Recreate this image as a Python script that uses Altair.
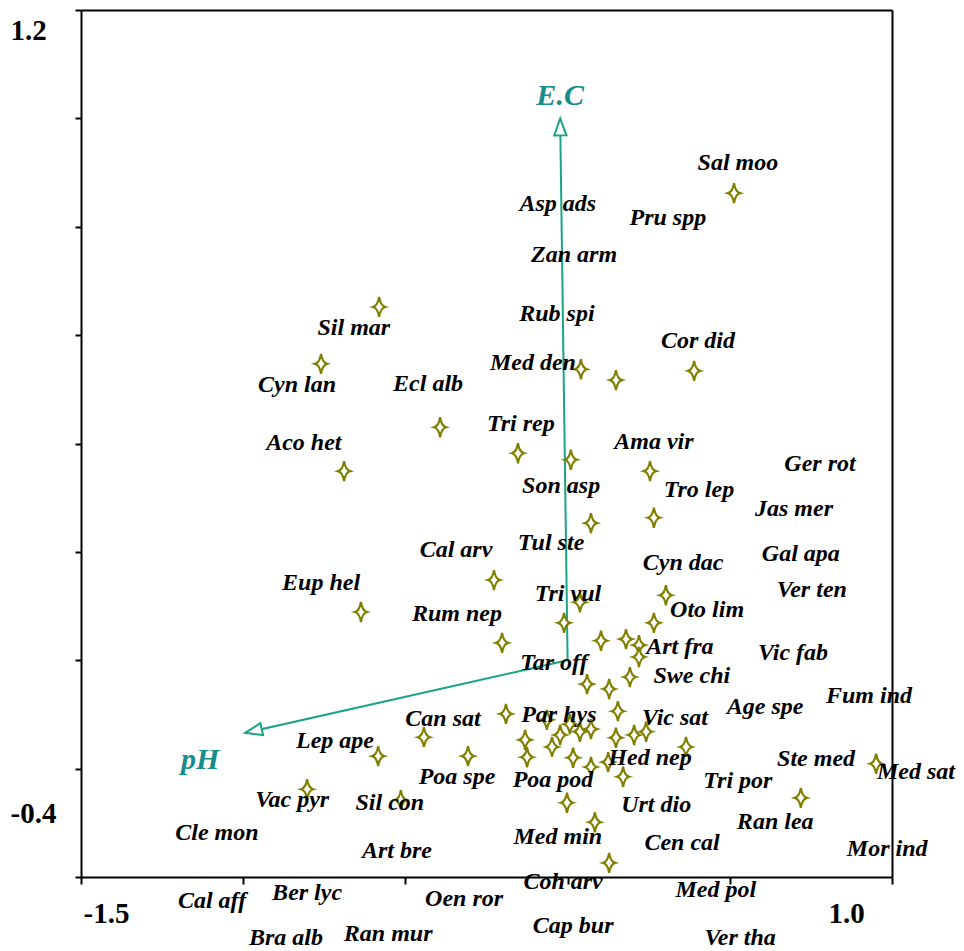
import math
import altair as alt
import pandas as pd

# ---- species points (CCA scores) ----
star_x = [0.513, -0.581, -0.760, 0.041, 0.149, 0.390, -0.393, -0.153, 0.010, 0.254,
          -0.689, 0.266, 0.072, -0.227, -0.637, 0.303, 0.038, 0.266, -0.011, -0.202,
          0.103, 0.180, 0.220, 0.220, 0.060, 0.192, 0.128, 0.155, -0.190, -0.064,
          0.007, 0.038, 0.072, -0.023, -0.048, -0.131, -0.125, 0.149, 0.205, 0.242,
          0.365, 0.017, 0.072, 0.125, 0.171, -0.307, -0.002, 0.084, 0.128, -0.443,
          -0.584, -0.803, -0.514, 0.719, 0.951]
star_y = [0.862, 0.652, 0.547, 0.537, 0.517, 0.534, 0.430, 0.382, 0.370, 0.349,
          0.349, 0.263, 0.253, 0.148, 0.089, 0.120, 0.107, 0.069, 0.069, 0.032,
          0.036, 0.039, 0.028, 0.006, -0.044, -0.031, -0.053, -0.094, -0.099, -0.110,
          -0.118, -0.132, -0.127, -0.138, -0.160, -0.147, -0.179, -0.143, -0.138, -0.132,
          -0.160, -0.180, -0.197, -0.188, -0.215, -0.177, -0.263, -0.299, -0.374, -0.142,
          -0.177, -0.238, -0.258, -0.254, -0.191]

# ---- species labels ----
label_names = ["Sal moo", "Asp ads", "Pru spp", "Zan arm", "Rub spi", "Sil mar", "Cor did",
               "Med den", "Cyn lan", "Ecl alb", "Tri rep", "Aco het", "Ama vir", "Ger rot",
               "Son asp", "Tro lep", "Jas mer", "Tul ste", "Cal arv", "Gal apa", "Cyn dac",
               "Eup hel", "Ver ten", "Tri vul", "Rum nep", "Oto lim", "Art fra", "Vic fab",
               "Tar off", "Swe chi", "Fum ind", "Age spe", "Par hys", "Can sat", "Vic sat",
               "Lep ape", "Hed nep", "Ste med", "Med sat", "Poa spe", "Poa pod", "Tri por",
               "Vac pyr", "Sil con", "Urt dio", "Ran lea", "Cle mon", "Med min", "Cen cal",
               "Art bre", "Mor ind", "Coh arv", "Med pol", "Cal aff", "Ber lyc", "Oen ror",
               "Cap bur", "Ver tha", "Bra alb", "Ran mur"]
label_x = [0.525, -0.030, 0.309, 0.020, -0.033, -0.659, 0.402,
           -0.107, -0.834, -0.430, -0.144, -0.813, 0.266, 0.778,
           -0.020, 0.405, 0.698, -0.051, -0.344, 0.719, 0.356,
           -0.760, 0.753, 0.001, -0.341, 0.430, 0.346, 0.695,
           -0.042, 0.383, 0.929, 0.609, -0.027, -0.384, 0.331,
           -0.717, 0.254, 0.766, 1.074, -0.341, -0.045, 0.525,
           -0.849, -0.548, 0.273, 0.640, -1.081, -0.030, 0.353,
           -0.526, 0.985, -0.014, 0.457, -1.096, -0.803, -0.319,
           0.017, 0.532, -0.868, -0.553]
label_y = [0.918, 0.842, 0.816, 0.748, 0.639, 0.613, 0.589,
           0.549, 0.508, 0.510, 0.436, 0.401, 0.403, 0.362,
           0.322, 0.314, 0.279, 0.216, 0.203, 0.196, 0.179,
           0.143, 0.130, 0.122, 0.085, 0.093, 0.024, 0.013,
           -0.005, -0.029, -0.066, -0.086, -0.101, -0.108, -0.106,
           -0.149, -0.180, -0.182, -0.206, -0.215, -0.221, -0.223,
           -0.258, -0.263, -0.267, -0.299, -0.318, -0.326, -0.337,
           -0.352, -0.348, -0.409, -0.424, -0.444, -0.430, -0.441,
           -0.490, -0.513, -0.513, -0.505]

# ---- environmental arrows ----
env_names = ["E.C", "pH"]
env_x = [-0.023, -0.994]
env_y = [1.000, -0.134]
env_label_x = [-0.023, -1.133]
env_label_y = [1.041, -0.184]

x_ticks = [-1.5, -1.0, -0.5, 0.0, 0.5, 1.0]
y_ticks = [-0.4, -0.2, 0.0, 0.2, 0.4, 0.6, 0.8, 1.0, 1.2]

W, H = 811, 867
sx = W / 2.5
sy = H / 1.6

stars = pd.DataFrame({"x": star_x, "y": star_y})
labels = pd.DataFrame({"name": label_names, "x": label_x, "y": label_y})
env = pd.DataFrame({
    "name": env_names, "x": env_x, "y": env_y,
    "x0": [0.0, 0.0], "y0": [0.0, 0.0],
    "lx": env_label_x, "ly": env_label_y,
})
env["angle"] = [(math.degrees(math.atan2(dx * sx, dy * sy)) + 360) % 360
                for dx, dy in zip(env_x, env_y)]

FONT = "Liberation Serif"
TEAL_LINE = "#1aa386"
TEAL_TEXT = "#178c8c"
OLIVE = "#808000"

xscale = alt.Scale(domain=[-1.5, 1.0], nice=False, zero=False)
yscale = alt.Scale(domain=[-0.4, 1.2], nice=False, zero=False)

MINUS_FIX = "replace(datum.label, '\u2212', '-')"

xaxis = alt.Axis(
    values=x_ticks, format=".1f", grid=False, title=None, orient="bottom",
    labelExpr="(datum.value == -1.5 || datum.value == 1) ? " + MINUS_FIX + " : ''",
    labelOffset={"condition": {"test": "datum.value == -1.5", "value": 25}, "value": -46},
    labelFont=FONT, labelFontSize=29, labelFontWeight="bold", labelColor="black",
    labelBaseline="middle", labelPadding=29, labelFlush=False, labelOverlap=False,
    tickSize=7, tickWidth=2, tickColor="black", domainColor="black", domainWidth=2,
)
yaxis = alt.Axis(
    values=y_ticks, format=".1f", grid=False, title=None, orient="left",
    labelExpr="(datum.value == -0.4 || datum.value == 1.2) ? " + MINUS_FIX + " : ''",
    labelOffset={"condition": {"test": "datum.value == 1.2", "value": 20}, "value": -64},
    labelFont=FONT, labelFontSize=29, labelFontWeight="bold", labelColor="black",
    labelAlign="left", labelBaseline="middle", labelPadding=65, labelFlush=False,
    labelOverlap=False,
    tickSize=6, tickWidth=2, tickColor="black", domainColor="black", domainWidth=2,
)
# frame lines on top and right
top_axis = alt.Axis(orient="top", ticks=False, labels=False, grid=False, title=None,
                    domainColor="black", domainWidth=2)
right_axis = alt.Axis(orient="right", ticks=False, labels=False, grid=False, title=None,
                      domainColor="black", domainWidth=2)

STAR = "M0,-1 Q0.13,-0.13 0.6,0 Q0.13,0.13 0,1 Q-0.13,0.13 -0.6,0 Q-0.13,-0.13 0,-1 Z"
HEAD = "M0,0 L0.36,1 L-0.36,1 Z"

base_pts = alt.Chart(stars).mark_point(
    shape=STAR, size=400, filled=True, fill="white", stroke=OLIVE,
    strokeWidth=2.2, opacity=1,
).encode(
    x=alt.X("x:Q", scale=xscale, axis=xaxis),
    y=alt.Y("y:Q", scale=yscale, axis=yaxis),
)

shafts = alt.Chart(env).mark_rule(color=TEAL_LINE, strokeWidth=2).encode(
    x=alt.X("x0:Q", scale=xscale, axis=None), y=alt.Y("y0:Q", scale=yscale, axis=None),
    x2="x:Q", y2="y:Q",
)

heads = alt.Chart(env).mark_point(
    shape=HEAD, size=1156, filled=True, fill="white", stroke=TEAL_LINE,
    strokeWidth=2, opacity=1,
).encode(
    x=alt.X("x:Q", scale=xscale, axis=None), y=alt.Y("y:Q", scale=yscale, axis=None),
    angle=alt.Angle("angle:Q", scale=None),
)

env_text = alt.Chart(env).mark_text(
    font=FONT, fontSize=30, fontStyle="italic", fontWeight="bold",
    color=TEAL_TEXT, align="center", baseline="middle",
).encode(
    x=alt.X("lx:Q", scale=xscale, axis=None), y=alt.Y("ly:Q", scale=yscale, axis=None),
    text="name:N",
)

sp_text = alt.Chart(labels).mark_text(
    font=FONT, fontSize=24, fontStyle="italic", fontWeight="bold",
    color="black", align="center", baseline="middle",
).encode(
    x=alt.X("x:Q", scale=xscale, axis=top_axis),
    y=alt.Y("y:Q", scale=yscale, axis=right_axis),
    text="name:N",
)

chart = alt.layer(shafts, base_pts, heads, env_text, sp_text).resolve_axis(
    x="independent", y="independent",
).properties(
    width=W, height=H,
    autosize=alt.AutoSizeParams(type="none"),
    padding={"left": 73, "top": 2, "right": 64, "bottom": 76},
).configure_view(
    strokeWidth=0,
).configure(background="white")

chart.save("out.html", embed_options={"renderer": "svg", "actions": False})
